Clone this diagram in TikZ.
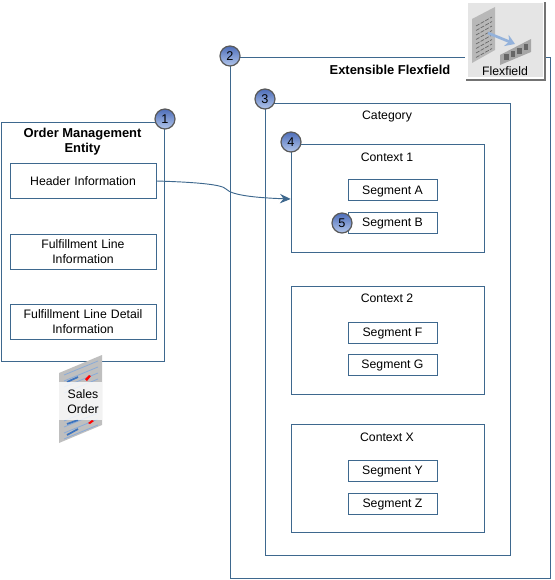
\documentclass[tikz,border=0pt]{standalone}
\usepackage{fontspec}
\setmainfont{Liberation Sans}
\usetikzlibrary{arrows.meta, positioning}
\definecolor{frameC}{RGB}{62, 104, 142}
\definecolor{badgeTop}{RGB}{78, 110, 185}
\definecolor{badgeBot}{RGB}{178, 198, 235}
\definecolor{iconBlue}{RGB}{60, 115, 190}

\begin{document}
\begin{tikzpicture}[
    x=0.75pt, y=-0.75pt,
    panel/.style={rectangle, draw=frameC, fill=white, anchor=north west, inner sep=0pt},
    infobox/.style={rectangle, draw=frameC, fill=white, minimum width=109.5pt, minimum height=26pt,
                text width=108pt, align=center, inner sep=0pt, font=\fontsize{9.2}{11.2}\selectfont},
    segbox/.style={rectangle, draw=frameC, fill=white, minimum width=66.5pt, minimum height=16pt,
                inner sep=0pt, text height=8pt, text depth=1.5pt, font=\fontsize{9.2}{11.2}\selectfont},
    title/.style={font=\fontsize{9.2}{11.2}\selectfont, align=center, inner sep=0pt},
    heading/.style={font=\fontsize{9.7}{11.2}\selectfont\bfseries, align=center, inner sep=0pt},
    badge/.style={circle, draw=black!65, line width=0.9pt, top color=badgeTop, bottom color=badgeBot,
                minimum size=15pt, inner sep=0pt, font=\fontsize{9.5}{9.5}\selectfont},
    arrow/.style={-{Stealth[length=8pt, width=7pt]}, frameC, line width=0.7pt}
  ]
    \useasboundingbox (0,0) rectangle (554,580);

    % Flexfield side
    \node[panel, minimum width=240pt, minimum height=390.75pt] (flex) at (229.7,57) {};
    \node[panel, minimum width=183.75pt, minimum height=339pt] (category) at (264.7,102.7) {};
    \node[heading] (flexT) at (390,69.5) {Extensible Flexfield};
    \node[title] (categoryT) at (387,116) {Category};

    % Contexts
    \node[panel, minimum width=144.75pt, minimum height=81pt] (ctx1) at (290.7,144) {};
    \node[panel, minimum width=144.75pt, minimum height=81pt] (ctx2) at (290.7,286) {};
    \node[panel, minimum width=144.75pt, minimum height=81pt] (ctxX) at (290.7,424) {};
    \node[title] (ctx1T) at (387,157) {Context 1};
    \node[title] (ctx2T) at (387,298.5) {Context 2};
    \node[title] (ctxXT) at (387,437.5) {Context X};

    % Segments
    \node[segbox] (segA) at (392.5,190) {Segment A};
    \node[segbox] (segB) at (392.5,222.5) {Segment B};
    \node[segbox] (segF) at (392.5,332.5) {Segment F};
    \node[segbox] (segG) at (392.5,364.5) {Segment G};
    \node[segbox] (segY) at (392.5,470.5) {Segment Y};
    \node[segbox] (segZ) at (392.5,503.5) {Segment Z};

    % Order management side
    \node[panel, minimum width=122.25pt, minimum height=179.25pt] (entity) at (0.7,122) {};
    \node[heading] (entityT) at (82.5,142) {Order Management\\Entity};
    \node[infobox] (header) at (83,181) {Header Information};
    \node[infobox] (line) at (83,251.5) {Fulfillment Line\\Information};
    \node[infobox] (detail) at (83,321.5) {Fulfillment Line Detail\\Information};

    % Connector
    \draw[arrow] (header.east) .. controls (190,182) and (222,184) .. (226,189)
      .. controls (232,196) and (262,198) .. (ctx1.west |- 0,199);

    % Flexfield icon
    \fill[black!55] (466,2) rectangle (546,81);
    \fill[white] (465,0) rectangle (544,79);
    \fill[black!10] (468,3) rectangle (543,77);
    \fill[black!28] (472,19) -- (495,7) -- (495,50) -- (472,63) -- cycle;
    \foreach \i in {0,...,7}
      \draw[black!60, line width=0.5pt, dash pattern=on 3pt off 1pt] (476,{26+4.5*\i}) -- (492,{17+4.5*\i});
    \fill[black!35] (500,55) -- (531,39) -- (531,52) -- (500,65) -- cycle;
    \foreach \i in {0,...,3}
      \fill[black!60] ({504+6.5*\i},{60-3.2*\i}) rectangle ++(4.5,-6);
    \draw[-{Stealth[length=7pt, width=9pt]}, line width=2pt, iconBlue!55] (488,33) -- (515,44);
    \node[title] (flexI) at (505,71.5) {Flexfield};

    % Sales order icon
    \fill[black!25] (59,373) -- (102,355) -- (102,425) -- (59,443) -- cycle;
    \foreach \j in {375,381,387,393,421,427,433,439}
      \draw[iconBlue!60, line width=0.6pt] (64,\j) -- (98,{\j-14});
    \draw[iconBlue, line width=1.3pt] (67,382) -- (78,377);
    \draw[iconBlue, line width=1.3pt] (67,424) -- (78,420);
    \draw[iconBlue, line width=1.3pt] (67,435) -- (78,429);
    \fill[red] (85,379) -- (89,375) -- (91,376) -- (87,381) -- cycle;
    \fill[red] (88,423) -- (92,420) -- (94,421) -- (90,424) -- cycle;
    \fill[white, opacity=0.8] (59,382) rectangle (102,420);
    \node[title] (salesI) at (83,401.5) {Sales\\Order};

    % Badges
    \node[badge] (b1) at (165,119) {1};
    \node[badge] (b2) at (230,56) {2};
    \node[badge] (b3) at (265,99) {3};
    \node[badge] (b4) at (291,142) {4};
    \node[badge] (b5) at (342,223) {5};
  \end{tikzpicture}
\end{document}
